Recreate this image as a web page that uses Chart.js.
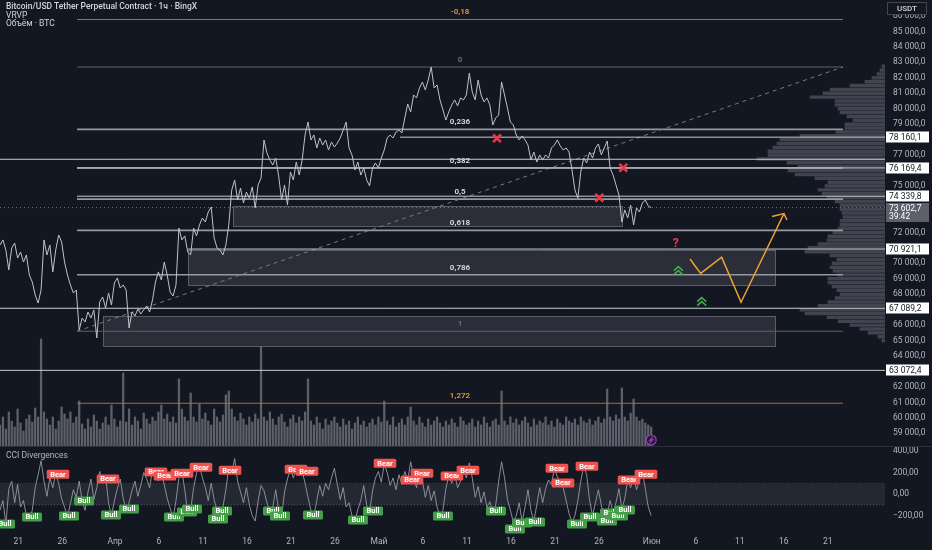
<!DOCTYPE html>
<html><head><meta charset="utf-8">
<script src="https://cdn.jsdelivr.net/npm/chart.js@4.4.1/dist/chart.umd.min.js"></script>
<style>
html,body{margin:0;padding:0;background:#131722;width:932px;height:550px;overflow:hidden;font-family:Roboto,"Noto Sans",sans-serif}
#topc{position:absolute;left:0;top:0}
#botc{position:absolute;left:0;top:447px}
.sep{position:absolute;left:0;top:446px;width:932px;height:1px;background:#2a2e39}
.lg{position:absolute;left:6px;font-size:8.5px;line-height:9px;color:#d1d4dc;white-space:nowrap}
</style></head>
<body>
<canvas id="topc" width="932" height="447"></canvas>
<div class="sep"></div>
<canvas id="botc" width="932" height="103"></canvas>
<div class="lg" style="top:2px;font-weight:500">Bitcoin/USD Tether Perpetual Contract · 1ч · BingX</div>
<div class="lg" style="top:11px">VRVP</div>
<div class="lg" style="top:19px">Объём · BTC</div>
<div class="lg" style="top:451px;color:#b2b5be">CCI Divergences</div>
<script>
// ---------- DATA ----------
const xMinDay = 17.93, xMaxDay = 118.5;            // days since 1 March
const xTickDays = [20,25,31,36,41,46,51,56,61,66,71,76,81,86,92,97,102,107,112];
const xTickLabels = ["21","26","Апр","6","11","16","21","26","Май","6","11","16","21","26","Июн","6","11","16","21"];
const priceTicks = [59000,60000,61000,62000,64000,65000,66000,68000,69000,70000,72000,75000,77000,79000,80000,81000,82000,83000,84000,85000,86000];
const cciTicks = [-200,0,200,400];
const priceMin = 58114, priceMax = 87035;
const cciMin = -333, cciMax = 437;

const priceStartDay = 17.93, priceStepDays = 1/3;
const priceValues = [
71180,71510,70860,69570,70990,71310,70340,70730,70080,70540,
69240,68790,67950,67430,68270,71510,70540,71180,69440,70860,
71830,71380,70080,69240,68600,68080,68270,65680,66460,66200,
66850,66460,66980,65170,67500,67820,67110,68080,67300,68730,
69050,68400,68600,68270,65810,66850,66590,67040,66720,66980,
67240,66850,67630,68790,69440,68920,70080,69240,68140,67880,
68600,72280,71510,71770,70730,70540,72280,71770,72480,72930,
72670,73320,73640,71640,70990,70860,70540,71180,72480,74740,
75390,74100,74870,73900,74610,74220,74940,73580,75070,75520,
77980,77140,76680,76360,76810,75650,74100,75070,73770,75910,
75390,76550,75710,76680,78300,79140,77980,78300,77460,78110,
77650,77980,77330,77850,77520,77780,78110,78620,79140,77460,
77010,76040,76550,75710,76170,75390,75000,76170,76490,76170,
76810,77330,78110,78300,78110,78490,78620,78430,79400,80310,
79790,80890,80700,81340,81730,81210,81860,82700,81340,81540,
80570,79920,79270,79790,80240,80570,80180,80700,80570,80890,
82310,81080,80570,81860,80890,80440,80700,80240,78950,79400,
79600,81730,80890,80050,79140,78950,78300,77980,78240,77980,
77650,76680,77200,76550,77010,76680,77010,76810,77460,77650,
77980,77590,77330,77460,77200,76040,74740,74220,75910,76810,
76490,77200,76810,77460,77720,77010,77460,77910,76170,75710,
75070,74420,72670,73450,72930,73770,72480,73580,73320,73900,
74100,73710,73600];
const volumeValues = [
220,300,180,350,260,200,380,240,160,280,
320,250,390,300,1080,350,280,220,300,180,
260,400,330,280,350,240,300,460,230,180,
280,200,320,260,180,240,300,220,420,280,
200,260,740,250,380,220,300,260,180,340,
280,230,300,260,350,420,280,330,250,300,
240,680,380,300,260,540,300,250,430,280,
340,260,220,380,300,250,320,520,560,380,
300,260,340,280,220,300,250,330,280,1000,
300,260,350,280,220,300,330,250,200,280,
320,240,300,260,350,680,260,220,300,240,
180,280,220,260,300,240,200,280,220,260,
180,240,300,220,260,200,240,280,220,300,
250,460,260,220,300,200,240,280,220,300,
400,260,220,300,240,200,280,220,260,300,
240,200,260,220,280,240,200,300,260,220,
240,280,200,260,220,300,240,200,260,280,
220,560,260,220,300,240,280,220,260,300,
240,200,280,220,260,240,300,220,260,200,
280,240,220,300,260,240,280,220,300,260,
240,280,220,260,300,240,280,580,300,260,
320,280,590,300,260,340,480,300,260,280,
240,220,200];
const cciValues = [
-150,-60,-280,50,120,-80,90,-120,-60,-200,
-240,-150,60,180,310,120,-20,150,60,190,
100,-40,-120,-210,-90,40,-30,120,-60,-150,
20,140,-50,60,210,100,170,-80,-200,-60,
50,140,-40,-150,-80,30,120,-20,80,200,
140,60,230,180,120,200,90,-40,-130,-220,
-60,150,210,40,-180,-150,60,190,270,150,
60,-60,100,-50,-160,-240,-120,40,250,200,
330,120,20,-80,60,-100,-200,-250,-60,80,
30,-80,-160,-120,40,-150,-210,20,140,230,
150,240,180,220,100,-30,-150,-200,-60,80,
-20,100,40,150,240,90,-50,60,-120,-80,
-200,-250,-140,-60,80,-100,-170,30,150,210,
110,280,200,80,150,40,180,90,210,130,
300,160,60,200,120,-30,80,-60,30,-120,
-200,-150,50,170,100,180,60,120,220,150,
290,150,-30,70,-80,20,-120,-70,-170,-100,
120,300,150,-50,-150,-260,-200,-80,-260,-120,
40,-150,-250,-100,60,-80,50,130,90,240,
160,110,60,-60,-180,-260,-200,-60,120,260,
180,-60,-200,-80,40,-100,-240,-180,-60,-170,
-80,50,-140,-40,130,60,160,40,130,200,
50,-120,-200];
const cciBandUpper = 100, cciBandLower = -100;

const bearDays = [24.52,30.20,35.66,36.68,38.61,40.77,44.07,51.57,52.82,61.68,65.88,64.75,69.29,71.11,81.22,81.91,84.63,89.41,91.34];
const bearCci  = [185,139,204,167,194,250,222,231,213,287,194,130,167,222,241,102,259,130,185];
const bullDays = [18.50,21.57,25.77,27.48,30.54,32.59,37.70,39.18,39.75,43.16,42.70,48.95,49.75,53.50,58.61,60.32,68.27,74.29,76.45,77.25,78.73,83.50,84.98,86.91,87.25,88.16,88.95];
const bullCci  = [-278,-213,-204,-65,-194,-139,-213,-167,-139,-157,-231,-157,-204,-194,-241,-157,-204,-157,-324,-269,-259,-278,-213,-250,-176,-204,-148];

const vrvpPrices = [82750,82500,82250,82000,81750,81500,81250,81000,80750,80500,80250,80000,79750,79500,79250,79000,78750,78500,78250,78000,
77750,77500,77250,77000,76750,76500,76250,76000,75750,75500,75250,75000,74750,74500,74250,74000,73750,73500,73250,73000,
72750,72500,72250,72000,71750,71500,71250,71000,70750,70500,70250,70000,69750,69500,69250,69000,68750,68500,68250,68000,
67750,67500,67250,67000,66750,66500,66250,66000,65750,65500,65250,65000];
const vrvpVolumes = [3,5,8,13,20,35,55,62,75,50,50,47,45,38,32,40,40,49,85,105,108,112,117,117,128,98,87,97,90,70,57,60,67,63,58,50,45,45,43,42,45,45,47,52,57,58,67,77,80,55,48,53,55,52,48,57,57,53,48,45,50,57,67,85,80,58,47,35,25,17,7,3];

const fibHigh = 82700, fibLow = 65600, fibStartDay = 26.68, fibEndDay = 113.73;
const fibRatios = [-0.18,0,0.236,0.382,0.5,0.618,0.786,1,1.272];
const fibLabels = ["-0,18","0","0,236","0,382","0,5","0,618","0,786","1","1,272"];

const rayPrices    = [78160.1,76730,76169.4,74339.8,70921.1,67089.2,63072.4];
const rayStartDays = [63.38,17.93,26.68,26.68,39.29,17.93,17.93];
const axisLabelPrices = [78160.1,76169.4,74339.8,70921.1,67089.2,63072.4];
const lastPrice = 73602.7, countdown = "39:42";

const zoneStartDays = [44.41,39.29,29.63];
const zoneEndDays   = [88.61,106.0,106.0];
const zoneTopPrices = [73707,70860,66558];
const zoneBottomPrices = [72413,68596,64649];

const crossDays = [74.41,88.76,86.03];
const crossPrices = [78090,76185,74244];
const questionDay = 94.71, questionPrice = 71248;
const chevronDays = [95.01,97.67];
const chevronPrices = [69521,67516];
const projDays = [96.34,97.55,99.94,102.14,107.02];
const projPrices = [70280,69350,70390,67480,73220];
const arrowDays = [105.66,107.02,107.36];
const arrowPrices = [73030,73220,72800];

// ---------- HELPERS ----------
const FONT = 'Roboto, "Noto Sans", sans-serif';
function group3(s){ return s.replace(/\B(?=(\d{3})+(?!\d))/g, ' '); }
function fmtPrice(v){ const s = Math.abs(v).toFixed(1).split('.'); return (v<0?'−':'') + group3(s[0]) + ',' + s[1]; }
function fmtCci(v){ const s = Math.abs(v).toFixed(2).split('.'); return (v<0?'−':'') + group3(s[0]) + ',' + s[1]; }
const fibLevels = fibRatios.map(r => fibHigh - r * (fibHigh - fibLow));
const fibLineColors = fibRatios.map(r => (r < 0 || r > 1) ? '#a86f2a' : (r === 0 || r === 1) ? '#5d606b' : '#9598a1');
const fibTextColors = fibRatios.map(r => (r < 0 || r > 1) ? '#d68f2e' : (r === 0 || r === 1) ? '#6a6d78' : '#d1d4dc');

Chart.defaults.font.family = FONT;
Chart.defaults.animation = false;
Chart.defaults.events = [];
Chart.defaults.plugins.legend.display = false;
Chart.defaults.plugins.tooltip.enabled = false;

// ---------- TOP CHART ----------
const ds = [];
ds.push({type:'line', data: priceValues.map((v,i)=>({x: priceStartDay + i*priceStepDays, y: v})),
  borderColor:'#bfc2ca', borderWidth:1, pointRadius:0, pointHoverRadius:0, tension:0, order:2, xAxisID:'x', yAxisID:'y'});
ds.push({type:'line', data: crossDays.map((d,i)=>({x:d, y:crossPrices[i]})), showLine:false,
  pointStyle:'crossRot', pointRadius:5.5, pointHoverRadius:5.5, pointBorderWidth:2.6, pointBorderColor:'#f23645', pointBackgroundColor:'#f23645', order:0, xAxisID:'x', yAxisID:'y'});
ds.push({type:'line', data: projDays.map((d,i)=>({x:d, y:projPrices[i]})),
  borderColor:'#f0a332', borderWidth:1.5, pointRadius:0, pointHoverRadius:0, tension:0, order:1, xAxisID:'x', yAxisID:'y'});
ds.push({type:'line', data: arrowDays.map((d,i)=>({x:d, y:arrowPrices[i]})),
  borderColor:'#f0a332', borderWidth:1.5, pointRadius:0, pointHoverRadius:0, tension:0, order:1, xAxisID:'x', yAxisID:'y'});
fibLevels.forEach((lv,i)=> ds.push({type:'line', data:[{x:fibStartDay,y:lv},{x:fibEndDay,y:lv}],
  borderColor: fibLineColors[i], borderWidth: (fibRatios[i]>0 && fibRatios[i]<1) ? 1.6 : 1.1, pointRadius:0, pointHoverRadius:0, order:5, xAxisID:'x', yAxisID:'y'}));
rayPrices.forEach((p,i)=> ds.push({type:'line', data:[{x:rayStartDays[i],y:p},{x:xMaxDay,y:p}],
  borderColor:'#c9ccd3', borderWidth:1, pointRadius:0, pointHoverRadius:0, order:4, xAxisID:'x', yAxisID:'y'}));
ds.push({type:'line', data:[{x:fibStartDay,y:fibLow},{x:fibEndDay,y:fibHigh}], borderColor:'#787b86', borderWidth:1,
  borderDash:[4,4], pointRadius:0, pointHoverRadius:0, order:4, xAxisID:'x', yAxisID:'y'});
ds.push({type:'line', data:[{x:xMinDay,y:lastPrice},{x:xMaxDay,y:lastPrice}], borderColor:'#787b86', borderWidth:1,
  borderDash:[1,3], pointRadius:0, pointHoverRadius:0, order:4, xAxisID:'x', yAxisID:'y'});
ds.push({type:'bar', indexAxis:'y', data: vrvpPrices.map((p,i)=>({y:p, x:vrvpVolumes[i]})), xAxisID:'xV', yAxisID:'y',
  backgroundColor:'rgba(128,132,143,0.42)', barThickness:2.8, grouped:false, order:7});
ds.push({type:'bar', data: volumeValues.map((v,i)=>({x: priceStartDay + i*priceStepDays, y: v})), xAxisID:'x', yAxisID:'yVol',
  backgroundColor:'rgba(125,128,138,0.7)', barThickness:1.6, grouped:false, order:8});

const topPlugin = {
  id:'topDecor',
  beforeDatasetsDraw(chart){
    const {ctx} = chart, x = chart.scales.x, y = chart.scales.y;
    ctx.save();
    for (let i=0;i<zoneStartDays.length;i++){
      const x0 = Math.round(x.getPixelForValue(zoneStartDays[i]))+0.5, x1 = Math.round(x.getPixelForValue(zoneEndDays[i]))+0.5;
      const y0 = Math.round(y.getPixelForValue(zoneTopPrices[i]))+0.5, y1 = Math.round(y.getPixelForValue(zoneBottomPrices[i]))+0.5;
      ctx.fillStyle = 'rgba(120,123,134,0.24)';
      ctx.fillRect(x0,y0,x1-x0,y1-y0);
      ctx.strokeStyle = 'rgba(150,153,164,0.5)'; ctx.lineWidth = 1;
      ctx.strokeRect(x0,y0,x1-x0,y1-y0);
    }
    ctx.restore();
  },
  afterDatasetsDraw(chart){
    const {ctx} = chart, x = chart.scales.x, y = chart.scales.y;
    ctx.save();
    ctx.font = `bold 8px ${FONT}`; ctx.textAlign='center'; ctx.textBaseline='bottom';
    const mid = x.getPixelForValue((fibStartDay+fibEndDay)/2);
    fibLevels.forEach((lv,i)=>{ ctx.fillStyle = fibTextColors[i]; ctx.fillText(fibLabels[i], mid, y.getPixelForValue(lv)-3); });
    ctx.font = `bold 12px ${FONT}`; ctx.fillStyle='#f23645'; ctx.textBaseline='middle';
    ctx.fillText('?', x.getPixelForValue(questionDay), y.getPixelForValue(questionPrice));
    ctx.strokeStyle='#3fae49'; ctx.lineWidth=1.6; ctx.lineJoin='miter';
    chevronDays.forEach((d,i)=>{
      const cx = x.getPixelForValue(d), cy = y.getPixelForValue(chevronPrices[i]);
      [-2.5,1.5].forEach(off=>{ ctx.beginPath(); ctx.moveTo(cx-4.5,cy+off+2.5); ctx.lineTo(cx,cy+off-1.5); ctx.lineTo(cx+4.5,cy+off+2.5); ctx.stroke(); });
    });
    const lx = x.getPixelForValue(priceStartDay + (priceValues.length-1)*priceStepDays), ly = chart.chartArea.bottom - 7;
    ctx.strokeStyle='#9c3fc0'; ctx.lineWidth=1.2; ctx.fillStyle='#1e1a2e';
    ctx.beginPath(); ctx.arc(lx, ly, 5, 0, Math.PI*2); ctx.fill(); ctx.stroke();
    ctx.beginPath(); ctx.moveTo(lx+1.5,ly-3.5); ctx.lineTo(lx-1.5,ly+0.5); ctx.lineTo(lx+1.5,ly-0.5); ctx.lineTo(lx-1.5,ly+3.5); ctx.stroke();
    ctx.restore();
  },
  afterDraw(chart){
    const {ctx} = chart, y = chart.scales.y, ax = chart.chartArea.right;
    ctx.save();
    ctx.font = `8.5px ${FONT}`; ctx.textAlign='left'; ctx.textBaseline='middle';
    axisLabelPrices.forEach(p=>{
      const py = Math.round(y.getPixelForValue(p));
      ctx.fillStyle='#ffffff'; ctx.fillRect(ax+1, py-5.5, 43, 11);
      ctx.fillStyle='#131722'; ctx.fillText(fmtPrice(p), ax+4, py+0.5);
    });
    const cy = Math.round(y.getPixelForValue(lastPrice));
    ctx.fillStyle='#5d606b'; ctx.fillRect(ax+1, cy-5, 43, 19);
    ctx.fillStyle='#ffffff'; ctx.fillText(fmtPrice(lastPrice), ax+4, cy+0.5); ctx.fillText(countdown, ax+4, cy+8.5);
    ctx.fillStyle='#131722'; ctx.fillRect(ax+2, 2, 40, 13);
    ctx.strokeStyle='#434651'; ctx.lineWidth=1; ctx.strokeRect(ax+2.5, 2.5, 39, 12);
    ctx.fillStyle='#d1d4dc'; ctx.textAlign='center'; ctx.font=`500 8px ${FONT}`; ctx.fillText('USDT', ax+22, 9);
    ctx.restore();
  }
};

new Chart(document.getElementById('topc'), {
  type:'line',
  data:{datasets: ds},
  plugins:[topPlugin],
  options:{
    responsive:false, maintainAspectRatio:false, layout:{padding:0, autoPadding:false},
    scales:{
      x:{type:'linear', min:xMinDay, max:xMaxDay, offset:false, display:false},
      xV:{type:'linear', axis:'x', position:'top', min:0, max:885, reverse:true, offset:false, display:false},
      yVol:{type:'linear', axis:'y', position:'left', min:0, max:4470, offset:false, display:false},
      y:{type:'linear', position:'right', min:priceMin, max:priceMax, offset:false,
        grid:{display:false, drawTicks:false}, border:{display:false},
        afterBuildTicks: s => { s.ticks = priceTicks.map(v=>({value:v})); },
        afterFit: s => { s.width = 47; s.paddingTop = 0; s.paddingBottom = 0; },
        ticks:{color:'#b2b5be', font:{size:8.5}, padding:8, autoSkip:false, callback: v => fmtPrice(v)}}
    }
  }
});

// ---------- BOTTOM CHART ----------
const tagPlugin = {
  id:'tags',
  afterDatasetsDraw(chart){
    const {ctx} = chart, x = chart.scales.x, y = chart.scales.y;
    ctx.save();
    ctx.font = `bold 7.5px ${FONT}`; ctx.textAlign='center'; ctx.textBaseline='middle';
    const tag = (d, v, text, bg) => {
      const px = x.getPixelForValue(d), py = y.getPixelForValue(v);
      const w = ctx.measureText(text).width + 7, h = 9;
      ctx.fillStyle = bg; ctx.beginPath();
      if (ctx.roundRect) ctx.roundRect(px-w/2, py-h/2, w, h, 1.5); else ctx.rect(px-w/2, py-h/2, w, h);
      ctx.fill();
      ctx.fillStyle = '#ffffff'; ctx.fillText(text, px, py+0.5);
    };
    bullDays.forEach((d,i)=> tag(d, bullCci[i], 'Bull', '#43a047'));
    bearDays.forEach((d,i)=> tag(d, bearCci[i], 'Bear', '#ef5350'));
    ctx.restore();
  }
};

new Chart(document.getElementById('botc'), {
  type:'line',
  data:{datasets:[
    {data: cciValues.map((v,i)=>({x: priceStartDay + i*priceStepDays, y: v})), borderColor:'rgba(150,153,162,0.9)', borderWidth:1, pointRadius:0, pointHoverRadius:0, tension:0, order:1},
    {data:[{x:xMinDay,y:cciBandUpper},{x:xMaxDay,y:cciBandUpper}], borderColor:'rgba(120,123,134,0.35)', borderWidth:1, borderDash:[1,2], pointRadius:0, pointHoverRadius:0, fill:'+1', backgroundColor:'rgba(120,123,134,0.17)', order:3},
    {data:[{x:xMinDay,y:cciBandLower},{x:xMaxDay,y:cciBandLower}], borderColor:'rgba(120,123,134,0.55)', borderWidth:1, borderDash:[1,2], pointRadius:0, pointHoverRadius:0, order:3}
  ]},
  plugins:[tagPlugin],
  options:{
    responsive:false, maintainAspectRatio:false, layout:{padding:0, autoPadding:false},
    scales:{
      x:{type:'linear', min:xMinDay, max:xMaxDay, offset:false, position:'bottom',
        grid:{display:false, drawTicks:false}, border:{display:false},
        afterBuildTicks: s => { s.ticks = xTickDays.map(v=>({value:v})); },
        afterFit: s => { s.height = 20; s.paddingLeft = 0; s.paddingRight = 0; },
        ticks:{color:'#b2b5be', font:{size:8.5}, padding:7, autoSkip:false, maxRotation:0, minRotation:0,
          callback: v => xTickLabels[xTickDays.indexOf(v)]}},
      y:{type:'linear', position:'right', min:cciMin, max:cciMax, offset:false,
        grid:{display:false, drawTicks:false}, border:{display:false},
        afterBuildTicks: s => { s.ticks = cciTicks.map(v=>({value:v})); },
        afterFit: s => { s.width = 47; s.paddingTop = 0; s.paddingBottom = 0; },
        ticks:{color:'#b2b5be', font:{size:8.5}, padding:8, autoSkip:false, callback: v => fmtCci(v)}}
    }
  }
});
</script>
</body></html>
